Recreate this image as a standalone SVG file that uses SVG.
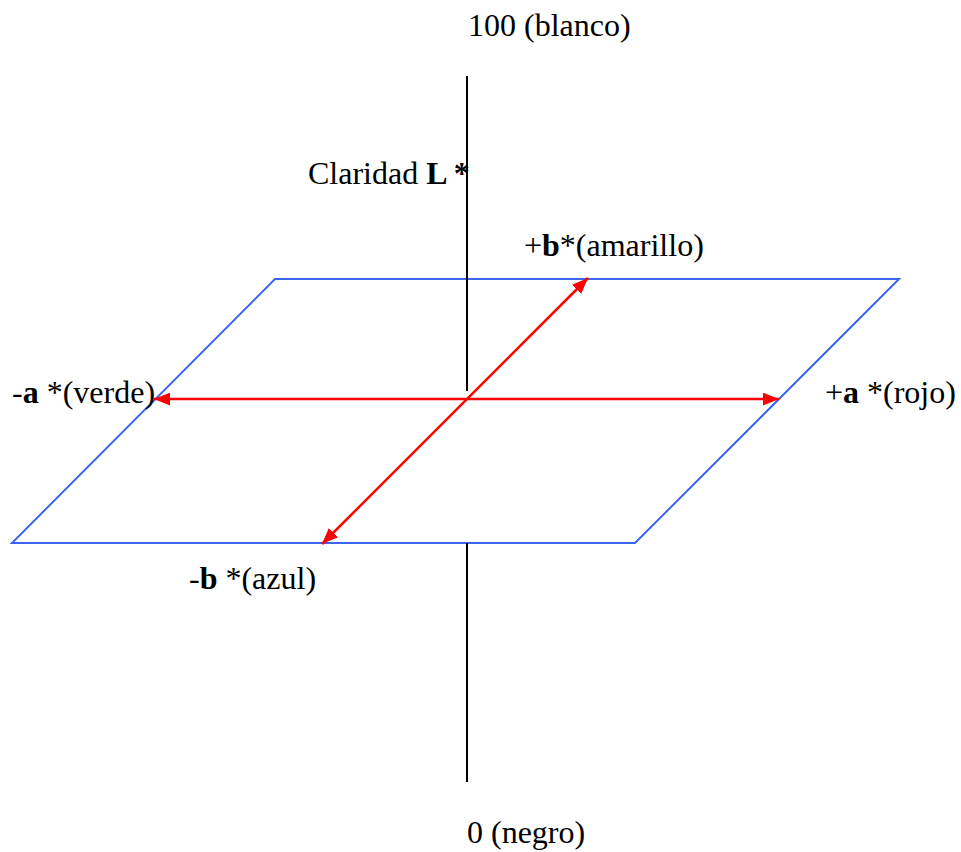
<svg xmlns="http://www.w3.org/2000/svg" width="961" height="852" viewBox="0 0 961 852">
<style>
text{font-family:"Liberation Serif","Times New Roman",serif;font-size:32px;fill:#000}
.b{font-weight:bold}
.axis{stroke:#000;stroke-width:2;fill:none}
.plane{stroke:#3a66f0;stroke-width:2;fill:none}
.red{stroke:#ff0000;stroke-width:2.5;fill:none}
</style>
<defs>
<marker id="ah" viewBox="0 0 10 10" refX="10" refY="5" markerWidth="6.5" markerHeight="5.2" preserveAspectRatio="none" markerUnits="strokeWidth" orient="auto-start-reverse">
<path d="M0,0 L10,5 L0,10 Z" fill="#ff0000"/>
</marker>
</defs>
<g id="plane"><polygon class="plane" points="275,279 899,279 635,543 12,543"/></g>
<g id="connectors">
<line class="axis" x1="467" y1="76" x2="467" y2="391"/>
<line class="axis" x1="467" y1="543" x2="467" y2="782"/>
<line class="red" x1="154" y1="399" x2="779" y2="399" marker-start="url(#ah)" marker-end="url(#ah)"/>
<line class="red" x1="322" y1="544" x2="588" y2="278" marker-start="url(#ah)" marker-end="url(#ah)"/>
</g>
<g id="labels">
<text x="468" y="36">100 (blanco)</text>
<text x="308" y="184">Claridad <tspan class="b">L *</tspan></text>
<text x="524" y="256">+<tspan class="b">b</tspan>*(amarillo)</text>
<text x="12" y="403">-<tspan class="b">a</tspan> *(verde)</text>
<text x="825" y="403">+<tspan class="b">a</tspan> *(rojo)</text>
<text x="189" y="589">-<tspan class="b">b</tspan> *(azul)</text>
<text x="467" y="843">0 (negro)</text>
</g>
</svg>
